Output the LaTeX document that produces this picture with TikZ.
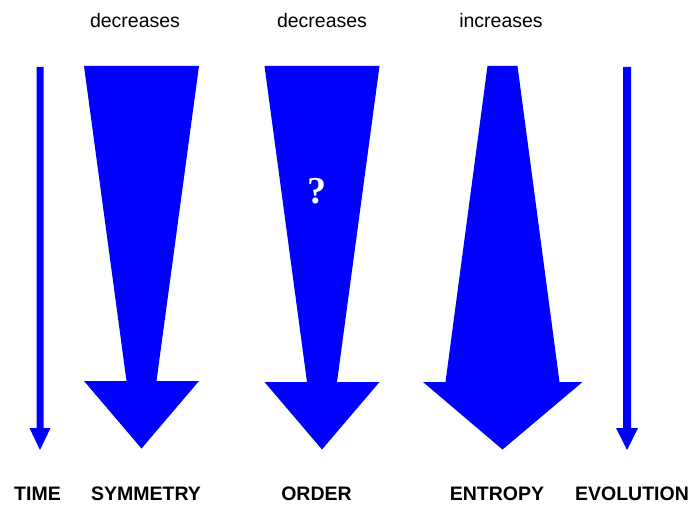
\documentclass[tikz,border=0pt]{standalone}
\usepackage{fontspec}
\setmainfont{Liberation Sans}
\newfontfamily\qfont{Liberation Serif}
\usetikzlibrary{positioning}
\tikzset{arr/.style = {fill=mblue, draw=none}}
\tikzset{trend/.style = {inner sep = 0, font = \fontsize{19.5bp}{23bp}\selectfont}}
\tikzset{quantity/.style = {inner sep = 0, font = \fontsize{19.5bp}{23bp}\selectfont\bfseries}}
\definecolor{mblue}{rgb}{0, 0, 1}
\begin{document}
\begin{tikzpicture}[x=1bp, y=-1bp]
      \useasboundingbox (0, 0) rectangle (693, 506);
      \fill [arr] (36.5, 67) -- (43.5, 67) -- (43.5, 428) -- (50.5, 428) -- (40, 450) -- (29.5, 428) -- (36.5, 428) -- cycle;
      \fill [arr] (84, 66) -- (199, 66) -- (156.5, 381) -- (199, 381) -- (141.5, 448.5) -- (84, 381) -- (126.5, 381) -- cycle;
      \fill [arr] (264.5, 66) -- (379.5, 66) -- (337, 382) -- (379.5, 382) -- (322, 449.5) -- (264.5, 382) -- (307, 382) -- cycle;
      \fill [arr] (487.5, 66) -- (517.5, 66) -- (559.5, 382) -- (582.5, 382) -- (502.5, 449.5) -- (423, 382) -- (445.5, 382) -- cycle;
      \fill [arr] (623, 67) -- (631, 67) -- (631, 428) -- (638, 428) -- (627, 450) -- (616, 428) -- (623, 428) -- cycle;
      \node (ques) [inner sep = 0, text = white, font = \fontsize{38bp}{40bp}\selectfont\qfont\bfseries] at (317, 191.5) {?};
      \node (symtrend) [trend] at (135, 20.5) {decreases};
      \node (ordtrend) [trend] at (322, 20.5) {decreases};
      \node (enttrend) [trend] at (501, 20.5) {increases};
      \node (time) [quantity] at (37.5, 494) {TIME};
      \node (sym) [quantity] at (146, 494) {SYMMETRY};
      \node (ord) [quantity] at (316.5, 494) {ORDER};
      \node (ent) [quantity] at (497, 494) {ENTROPY};
      \node (evo) [quantity] at (632, 494) {EVOLUTION};
    \end{tikzpicture}
\end{document}
